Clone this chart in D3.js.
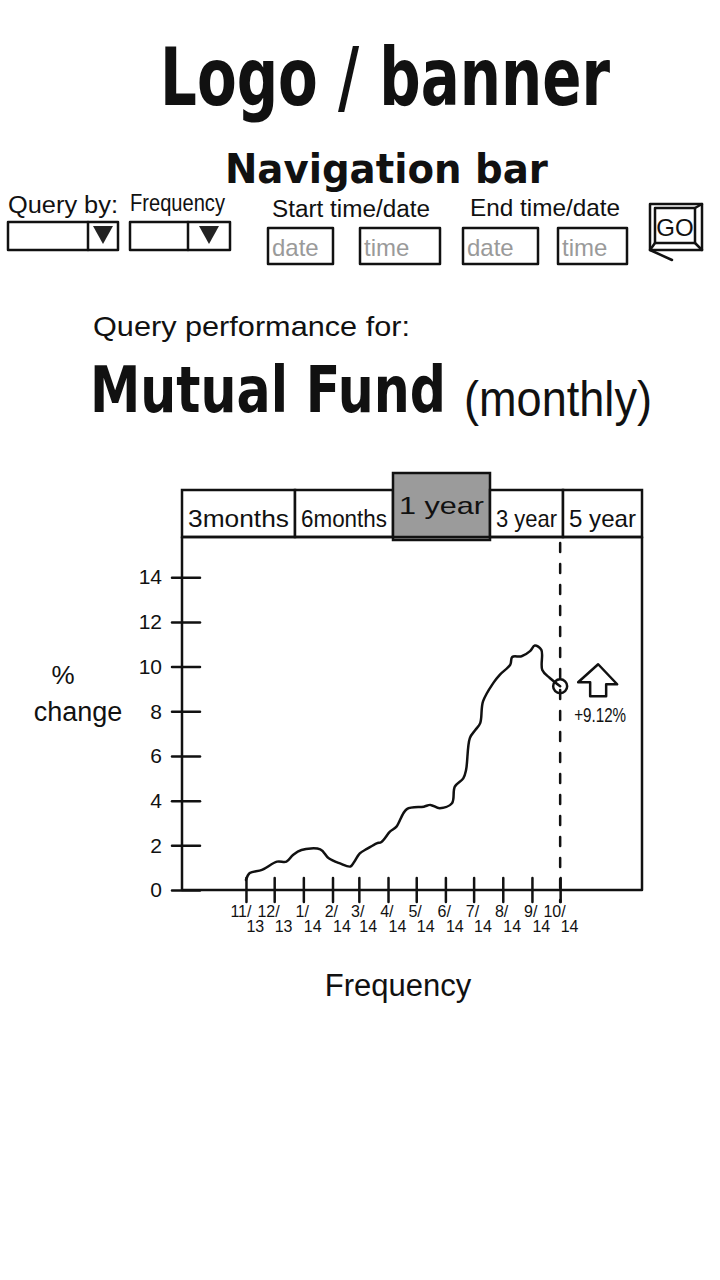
<!DOCTYPE html>
<html>
<head>
<meta charset="utf-8"/>
<script src="https://d3js.org/d3.v7.min.js"></script>
<title>Mutual Fund query wireframe</title>
<style>
body { margin: 0; background: #fff; }
text { font-family: "DejaVu Sans", sans-serif; fill: #111; }
.hand { font-family: "Liberation Sans", sans-serif; }
.marker { font-weight: bold; }
.placeholder { fill: #9a9a9a; }
.stroke { fill: none; stroke: #111; stroke-width: 2.5; stroke-linecap: round; stroke-linejoin: round; }
</style>
</head>
<body>
<svg width="720" height="1280"></svg>
<script>
// tabs above the chart
var tabs = ["3months", "6months", "1 year", "3 year", "5 year"],
    selectedTab = "1 year";

// y axis ticks (% change)
var yTicks = [0, 2, 4, 6, 8, 10, 12, 14];

// monthly x ticks and their labels
var monthTicks = ["2013-11-01", "2013-12-01", "2014-01-01", "2014-02-01", "2014-03-01", "2014-04-01",
                  "2014-05-01", "2014-06-01", "2014-07-01", "2014-08-01", "2014-09-01", "2014-10-01"];
var monthLabels = ["11/13", "12/13", "1/14", "2/14", "3/14", "4/14",
                   "5/14", "6/14", "7/14", "8/14", "9/14", "10/14"];

// the sketched performance line
var dates = ["2013-11-01", "2013-11-05", "2013-11-18", "2013-12-04", "2013-12-14", "2013-12-21",
             "2013-12-30", "2014-01-19", "2014-01-28", "2014-02-09", "2014-02-20", "2014-02-24",
             "2014-03-02", "2014-03-10", "2014-03-20", "2014-03-25", "2014-04-03", "2014-04-10",
             "2014-04-21", "2014-05-09", "2014-05-16", "2014-05-26", "2014-06-08", "2014-06-11",
             "2014-06-20", "2014-06-23", "2014-06-27", "2014-07-03", "2014-07-08", "2014-07-11",
             "2014-07-22", "2014-07-29", "2014-08-09", "2014-08-11", "2014-08-21", "2014-08-30",
             "2014-09-04", "2014-09-11", "2014-09-12", "2014-09-20", "2014-10-01"];
var pctChange = [0.45, 0.76, 0.9, 1.27, 1.27, 1.57,
                 1.79, 1.82, 1.42, 1.19, 1.05, 1.25,
                 1.64, 1.85, 2.09, 2.15, 2.61, 2.84,
                 3.62, 3.73, 3.81, 3.66, 3.88, 4.63,
                 5.0, 5.38, 6.8, 7.17, 7.47, 8.44,
                 9.27, 9.64, 10.09, 10.43, 10.46, 10.69,
                 10.94, 10.75, 9.85, 9.49, 9.12];
var lastChange = "+9.12%";

var parse = d3.timeParse("%Y-%m-%d");
var data = dates.map(function(d, i) { return { date: parse(d), value: pctChange[i] }; });

var svg = d3.select("svg");

// squeeze or stretch a text horizontally so it spans a given width
function fitted(parent, cls, x, y, size, width, t) {
  var g = parent.append("g").attr("transform", "translate(" + x + "," + y + ")");
  var txt = g.append("text").attr("class", cls).attr("font-size", size).text(t);
  var w = txt.node().getComputedTextLength();
  txt.attr("transform", "scale(" + (width / w) + ",1)");
  return txt;
}

// ---- header ----
fitted(svg, "marker", 160, 105, 80, 450, "Logo / banner");
fitted(svg, "marker", 225, 183, 40, 323, "Navigation bar");

// ---- navigation controls ----
var nav = svg.append("g");
fitted(nav, "hand", 8, 213, 23, 110, "Query by:");
fitted(nav, "hand", 130, 211, 23, 95, "Frequency");
fitted(nav, "hand", 272, 217, 23, 158, "Start time/date");
fitted(nav, "hand", 470, 216, 23, 150, "End time/date");

// dropdowns
[[8, 118, 88], [130, 230, 188]].forEach(function(b) {
  nav.append("rect").attr("class", "stroke").attr("x", b[0]).attr("y", 222)
      .attr("width", b[1] - b[0]).attr("height", 28);
  nav.append("line").attr("class", "stroke").attr("x1", b[2]).attr("x2", b[2]).attr("y1", 222).attr("y2", 250);
  var cx = (b[2] + b[1]) / 2;
  nav.append("path").attr("d", "M" + (cx - 10) + ",226 L" + (cx + 10) + ",226 L" + cx + ",244 Z")
      .attr("fill", "#222");
});

// date / time inputs
[[268, 333, "date"], [360, 440, "time"], [463, 538, "date"], [558, 627, "time"]].forEach(function(b) {
  nav.append("rect").attr("class", "stroke").attr("x", b[0]).attr("y", 228)
      .attr("width", b[1] - b[0]).attr("height", 36);
  nav.append("text").attr("class", "hand placeholder").attr("x", b[0] + 4).attr("y", 256)
      .attr("font-size", 24).text(b[2]);
});

// GO button
nav.append("rect").attr("class", "stroke").attr("x", 650).attr("y", 204).attr("width", 52).attr("height", 46);
nav.append("rect").attr("class", "stroke").attr("x", 655).attr("y", 208).attr("width", 40).attr("height", 35);
nav.append("path").attr("class", "stroke").attr("d", "M655,243 L650,250 M695,243 L702,250 M695,208 L702,204 M650,250 L672,260");
nav.append("text").attr("class", "hand").attr("x", 675).attr("y", 236)
    .attr("text-anchor", "middle").attr("font-size", 24).text("GO");

// ---- title ----
fitted(svg, "hand", 93, 336, 28, 317, "Query performance for:");
fitted(svg, "marker", 90, 412, 64, 356, "Mutual Fund");
fitted(svg, "hand", 464, 416, 50, 188, "(monthly)");

// ---- chart ----
var plotLeft = 182, plotRight = 642, plotTop = 537, plotBottom = 890;

var x = d3.scaleTime()
    .domain([parse("2013-08-25"), parse("2014-12-27")])
    .range([plotLeft, plotRight]);
var y = d3.scaleLinear()
    .domain([0, 15.8])
    .range([plotBottom, plotTop]);

// tabs
var tabEdges = [182, 295, 393, 490, 563, 642];
var tabG = svg.append("g");
tabs.forEach(function(d, i) {
  var on = d === selectedTab;
  tabG.append("rect")
      .attr("x", tabEdges[i]).attr("y", on ? 473 : 490)
      .attr("width", tabEdges[i + 1] - tabEdges[i]).attr("height", on ? 67 : 47)
      .attr("fill", on ? "#9b9b9b" : "#fff")
      .attr("stroke", "#111").attr("stroke-width", 2.5);
  fitted(tabG, "hand", tabEdges[i] + 6, on ? 514 : 527, 24, tabEdges[i + 1] - tabEdges[i] - 12, d);
});

// frame
svg.append("rect").attr("class", "stroke")
    .attr("x", plotLeft).attr("y", plotTop).attr("width", plotRight - plotLeft).attr("height", plotBottom - plotTop);

// y axis
var yAxis = svg.append("g").attr("transform", "translate(" + plotLeft + ",0)")
    .call(d3.axisLeft(y).tickValues(yTicks).tickSize(0).tickPadding(20));
yAxis.select(".domain").remove();
yAxis.selectAll(".tick text").attr("class", "hand").attr("font-size", 21).attr("fill", "#111");
yAxis.selectAll(".tick").append("line").attr("class", "stroke").attr("x1", -10).attr("x2", 18);

// x axis
var xAxis = svg.append("g").attr("transform", "translate(0," + plotBottom + ")")
    .call(d3.axisBottom(x).tickValues(monthTicks.map(parse)).tickSize(0).tickFormat(""));
xAxis.select(".domain").remove();
xAxis.selectAll(".tick").append("line").attr("class", "stroke").attr("y1", -12).attr("y2", 12);
xAxis.selectAll(".tick").each(function(d, i) {
  var parts = monthLabels[i].split("/");
  var t = d3.select(this);
  t.append("text").attr("class", "hand").attr("fill", "#111")
      .attr("font-size", 16).attr("text-anchor", "end").attr("x", 5).attr("y", 27)
      .text(parts[0] + "/");
  t.append("text").attr("class", "hand").attr("fill", "#111")
      .attr("font-size", 16).attr("text-anchor", "start").attr("x", 0).attr("y", 42)
      .text(parts[1]);
});

// dashed marker at the last date
var lastPoint = data[data.length - 1];
svg.append("line").attr("class", "stroke").attr("stroke-width", 2)
    .attr("stroke-dasharray", "9,12")
    .attr("x1", x(lastPoint.date)).attr("x2", x(lastPoint.date))
    .attr("y1", plotTop + 6).attr("y2", plotBottom + 12);

// performance line
var line = d3.line()
    .x(function(d) { return x(d.date); })
    .y(function(d) { return y(d.value); })
    .curve(d3.curveCatmullRom);
svg.append("path").datum(data).attr("class", "stroke").attr("stroke-width", 2.2).attr("d", line);

svg.append("circle").attr("class", "stroke").attr("fill", "#fff").attr("stroke-width", 2.2)
    .attr("cx", x(lastPoint.date)).attr("cy", y(lastPoint.value)).attr("r", 7);

// up arrow and change label
var ax = x(lastPoint.date) + 38, ay = y(lastPoint.value) - 22;
svg.append("path").attr("class", "stroke").attr("stroke-width", 2.2)
    .attr("d", "M" + (ax - 20) + "," + (ay + 18) + " L" + ax + "," + ay + " L" + (ax + 19) + "," + (ay + 20) +
               " L" + (ax + 8) + "," + (ay + 20) + " L" + (ax + 8) + "," + (ay + 32) +
               " L" + (ax - 8) + "," + (ay + 32) + " L" + (ax - 8) + "," + (ay + 18) + " Z");
fitted(svg, "hand", x(lastPoint.date) + 14, y(lastPoint.value) + 36, 20, 52, lastChange);

// axis titles
svg.append("text").attr("class", "hand").attr("x", 63).attr("y", 684)
    .attr("text-anchor", "middle").attr("font-size", 26).text("%");
svg.append("text").attr("class", "hand").attr("x", 78).attr("y", 721)
    .attr("text-anchor", "middle").attr("font-size", 27).text("change");
svg.append("text").attr("class", "hand").attr("x", 398).attr("y", 996)
    .attr("text-anchor", "middle").attr("font-size", 31).text("Frequency");
</script>
</body>
</html>
